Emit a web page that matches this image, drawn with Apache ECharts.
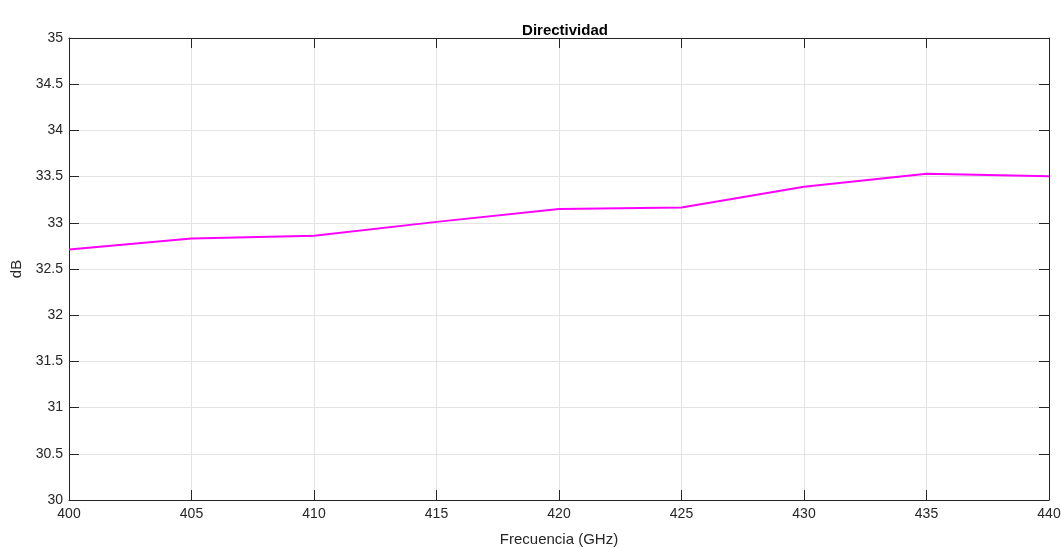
<!DOCTYPE html>
<html>
<head>
<meta charset="utf-8">
<script src="https://cdn.jsdelivr.net/npm/echarts@6/dist/echarts.min.js"></script>
<style>
  html, body { margin: 0; padding: 0; background: #fff; }
  #chart { width: 1062px; height: 548px; }
</style>
</head>
<body>
<div id="chart"></div>
<script>
// Frequency sweep (GHz) and directivity (dB)
const frequencies = [400, 405, 410, 415, 420, 425, 430, 435, 440];
const directivity = [32.71, 32.83, 32.86, 33.01, 33.15, 33.165, 33.39, 33.53, 33.505];

const titleText = 'Directividad';
const xName = 'Frecuencia (GHz)';
const yName = 'dB';

const axisColor = '#262626';
const gridColor = '#e3e3e3';
const font = 'Liberation Sans, Arial, Helvetica, sans-serif';

const chart = echarts.init(document.getElementById('chart'), null, { renderer: 'canvas' });

const baseAxis = {
  axisLine: { show: true, onZero: false, lineStyle: { color: axisColor, width: 1 } },
  axisTick: { show: true, inside: true, length: 10, lineStyle: { color: axisColor, width: 1 } },
  splitLine: { show: false },
  axisLabel: { show: false }
};

chart.setOption({
  animation: false,
  backgroundColor: '#ffffff',
  title: {
    text: titleText,
    left: 560,
    top: 18,
    textAlign: 'center',
    textStyle: { fontFamily: font, fontSize: 15, fontWeight: 'bold', color: '#000' }
  },
  grid: { left: 69, right: 13, top: 38, bottom: 48, containLabel: false, outerBoundsMode: 'none' },
  xAxis: [
    Object.assign({}, baseAxis, {
      type: 'value', min: 400, max: 440, interval: 5, position: 'bottom',
      name: xName, nameLocation: 'middle', nameGap: 32,
      nameTextStyle: { fontFamily: font, fontSize: 15, color: axisColor },
      axisLabel: { show: true, fontFamily: font, fontSize: 14, color: axisColor, margin: 7 },
      splitLine: { show: true, lineStyle: { color: gridColor, width: 1 } }
    }),
    Object.assign({}, baseAxis, {
      type: 'value', min: 400, max: 440, interval: 5, position: 'top'
    })
  ],
  yAxis: [
    Object.assign({}, baseAxis, {
      type: 'value', min: 30, max: 35, interval: 0.5, position: 'left',
      name: yName, nameLocation: 'middle', nameGap: 44, nameRotate: 90,
      nameTextStyle: { fontFamily: font, fontSize: 15, color: axisColor },
      axisLabel: { show: true, fontFamily: font, fontSize: 14, color: axisColor, margin: 6 },
      splitLine: { show: true, lineStyle: { color: gridColor, width: 1 } }
    }),
    Object.assign({}, baseAxis, {
      type: 'value', min: 30, max: 35, interval: 0.5, position: 'right'
    })
  ],
  series: [{
    type: 'line',
    xAxisIndex: 0,
    yAxisIndex: 0,
    data: frequencies.map((f, i) => [f, directivity[i]]),
    showSymbol: false,
    symbol: 'none',
    lineStyle: { color: '#ff00ff', width: 2 },
    z: 5
  }]
});
</script>
</body>
</html>
